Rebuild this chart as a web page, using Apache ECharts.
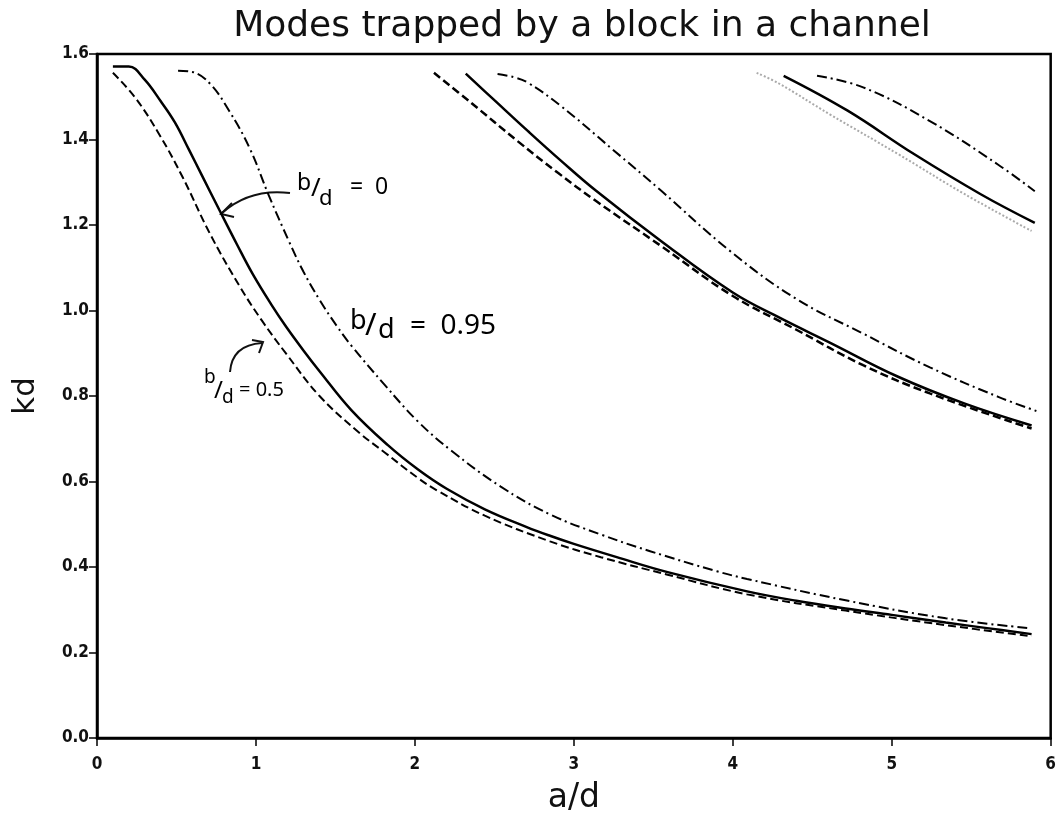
<!DOCTYPE html>
<html>
<head>
<meta charset="utf-8">
<title>Modes trapped by a block in a channel</title>
<script src="https://cdn.jsdelivr.net/npm/echarts@6/dist/echarts.min.js"></script>
<style>
  html, body { margin: 0; padding: 0; background: #fff; }
  #chart { width: 1059px; height: 820px; }
</style>
</head>
<body>
<div id="chart"></div>
<script>
// [a/d, kd], three trapped modes per block width
const mode1Solid = [[0.10, 1.571], [0.20, 1.571], [0.30, 1.540], [0.40, 1.490], [0.49, 1.440], [0.58, 1.375], [0.66, 1.316], [0.77, 1.235], [0.88, 1.155], [0.98, 1.085], [1.10, 1.012], [1.19, 0.962], [1.30, 0.906], [1.40, 0.858], [1.60, 0.767], [1.83, 0.685], [2.02, 0.628], [2.20, 0.583], [2.44, 0.535], [2.70, 0.494], [2.85, 0.473], [3.00, 0.454], [3.27, 0.423], [3.59, 0.388], [4.09, 0.343], [4.40, 0.321], [4.71, 0.303], [5.00, 0.288], [5.34, 0.270], [5.60, 0.257], [5.88, 0.243]];
const mode1Dashed = [[0.10, 1.556], [0.24, 1.498], [0.39, 1.413], [0.54, 1.311], [0.71, 1.180], [0.90, 1.055], [1.04, 0.975], [1.19, 0.899], [1.40, 0.800], [1.65, 0.714], [1.81, 0.668], [2.02, 0.608], [2.14, 0.579], [2.44, 0.520], [2.85, 0.460], [3.17, 0.423], [3.59, 0.382], [4.09, 0.336], [4.71, 0.298], [5.34, 0.264], [5.88, 0.238]];
const mode1DashDot = [[0.51, 1.561], [0.60, 1.558], [0.71, 1.531], [0.83, 1.468], [0.96, 1.380], [1.08, 1.270], [1.21, 1.160], [1.30, 1.090], [1.40, 1.025], [1.51, 0.963], [1.60, 0.918], [1.81, 0.826], [2.02, 0.740], [2.23, 0.672], [2.54, 0.588], [2.85, 0.523], [3.17, 0.476], [3.48, 0.437], [3.90, 0.390], [4.09, 0.372], [4.71, 0.322], [5.34, 0.280], [5.86, 0.257]];

const mode2Solid = [[2.32, 1.554], [2.50, 1.492], [2.71, 1.420], [2.92, 1.350], [3.14, 1.280], [3.55, 1.162], [4.00, 1.042], [4.30, 0.982], [4.61, 0.925], [5.04, 0.845], [5.46, 0.782], [5.88, 0.731]];
const mode2Dashed = [[2.12, 1.556], [2.35, 1.487], [2.65, 1.395], [2.90, 1.322], [3.14, 1.256], [3.56, 1.148], [4.00, 1.034], [4.40, 0.955], [4.82, 0.872], [5.24, 0.806], [5.88, 0.724]];
const mode2DashDot = [[2.52, 1.553], [2.62, 1.546], [2.71, 1.533], [2.92, 1.478], [3.24, 1.378], [3.55, 1.280], [3.98, 1.140], [4.40, 1.027], [4.82, 0.946], [5.24, 0.867], [5.67, 0.798], [5.91, 0.765]];

const mode3Solid = [[4.32, 1.549], [4.72, 1.468], [5.14, 1.366], [5.56, 1.272], [5.90, 1.205]];
const mode3Dashed = [[4.15, 1.556], [4.29, 1.531], [4.61, 1.459], [5.04, 1.366], [5.46, 1.272], [5.88, 1.186]];
const mode3DashDot = [[4.53, 1.549], [4.82, 1.522], [5.24, 1.443], [5.67, 1.341], [5.90, 1.279]];

const chart = echarts.init(document.getElementById('chart'));

function curve(name, data, type, width, color) {
  return {
    name: name,
    type: 'line',
    data: data,
    smooth: 0.4,
    showSymbol: false,
    silent: true,
    lineStyle: { color: color || '#000', width: width, type: type }
  };
}

const dashed = [8, 4];
const dashDot = [10, 4, 2, 4];
const hand = { fontFamily: 'Noto Sans', color: '#111' };

const option = {
  backgroundColor: '#fff',
  animation: false,
  title: {
    text: 'Modes trapped by a block in a channel',
    left: 577,
    top: 4,
    textAlign: 'center',
    textStyle: { fontFamily: 'DejaVu Sans', fontSize: 36, fontWeight: 'normal', color: '#111' }
  },
  grid: {
    left: 97, right: 3, top: 54, bottom: 74,
    show: true, borderColor: '#000', borderWidth: 2.5
  },
  xAxis: {
    type: 'value',
    min: 0, max: 6, interval: 1,
    name: 'a/d',
    nameLocation: 'middle',
    nameGap: 44,
    nameTextStyle: { fontFamily: 'DejaVu Sans', fontSize: 33, color: '#111' },
    axisLine: { lineStyle: { color: '#000', width: 2.5 } },
    axisTick: { show: true, length: 8, lineStyle: { color: '#000', width: 1.5 } },
    axisLabel: { margin: 18, fontFamily: 'DejaVu Sans Condensed', fontSize: 17, fontWeight: 'bold', color: '#111' },
    splitLine: { show: false }
  },
  yAxis: {
    type: 'value',
    min: 0, max: 1.6, interval: 0.2,
    name: 'kd',
    nameLocation: 'middle',
    nameGap: 56,
    nameRotate: 90,
    nameTextStyle: { fontFamily: 'DejaVu Sans', fontSize: 31, color: '#111' },
    axisLine: { lineStyle: { color: '#000', width: 2.5 } },
    axisTick: { show: true, length: 8, lineStyle: { color: '#000', width: 1.5 } },
    axisLabel: {
      margin: 8, fontFamily: 'DejaVu Sans Condensed', fontSize: 17, fontWeight: 'bold', color: '#111',
      formatter: v => v.toFixed(1)
    },
    splitLine: { show: false }
  },
  series: [
    curve('b/d = 0, mode 1', mode1Solid, 'solid', 2.5),
    curve('b/d = 0.5, mode 1', mode1Dashed, dashed, 2),
    curve('b/d = 0.95, mode 1', mode1DashDot, dashDot, 2),
    curve('b/d = 0, mode 2', mode2Solid, 'solid', 2.5),
    curve('b/d = 0.5, mode 2', mode2Dashed, dashed, 2.5),
    curve('b/d = 0.95, mode 2', mode2DashDot, dashDot, 2),
    curve('b/d = 0, mode 3', mode3Solid, 'solid', 2.5),
    curve('b/d = 0.5, mode 3', mode3Dashed, 'dotted', 2, '#aaa'),
    curve('b/d = 0.95, mode 3', mode3DashDot, dashDot, 2)
  ],
  graphic: [
    // b/d = 0 with arrow
    { type: 'text', left: 297, top: 172, style: Object.assign({ text: 'b', fontSize: 23 }, hand) },
    { type: 'text', left: 311, top: 176, style: Object.assign({ text: '/', fontSize: 26 }, hand) },
    { type: 'text', left: 319, top: 188, style: Object.assign({ text: 'd', fontSize: 22 }, hand) },
    { type: 'text', left: 350, top: 176, style: Object.assign({ text: '=  0', fontSize: 23 }, hand) },
    { type: 'bezierCurve', shape: { x1: 290, y1: 193, x2: 222, y2: 213, cpx1: 250, cpy1: 188 }, style: { stroke: '#111', lineWidth: 2, fill: null } },
    { type: 'polyline', shape: { points: [[232, 203], [221, 214], [234, 217]] }, style: { stroke: '#111', lineWidth: 2, fill: null } },
    // b/d = 0.95
    { type: 'text', left: 350, top: 308, style: Object.assign({ text: 'b', fontSize: 27 }, hand) },
    { type: 'text', left: 365, top: 311, style: Object.assign({ text: '/', fontSize: 31 }, hand) },
    { type: 'text', left: 378, top: 317, style: Object.assign({ text: 'd', fontSize: 27 }, hand) },
    { type: 'text', left: 410, top: 312, style: Object.assign({ text: '=  0.95', fontSize: 28 }, hand) },
    // b/d = 0.5 with arrow
    { type: 'text', left: 204, top: 368, style: Object.assign({ text: 'b', fontSize: 19 }, hand) },
    { type: 'text', left: 214, top: 379, style: Object.assign({ text: '/', fontSize: 24 }, hand) },
    { type: 'text', left: 222, top: 388, style: Object.assign({ text: 'd', fontSize: 19 }, hand) },
    { type: 'text', left: 239, top: 380, style: Object.assign({ text: '= 0.5', fontSize: 20 }, hand) },
    { type: 'bezierCurve', shape: { x1: 230, y1: 372, x2: 262, y2: 343, cpx1: 232, cpy1: 345 }, style: { stroke: '#111', lineWidth: 2, fill: null } },
    { type: 'polyline', shape: { points: [[252, 340], [263, 342], [259, 353]] }, style: { stroke: '#111', lineWidth: 2, fill: null } }
  ]
};

chart.setOption(option);
</script>
</body>
</html>
